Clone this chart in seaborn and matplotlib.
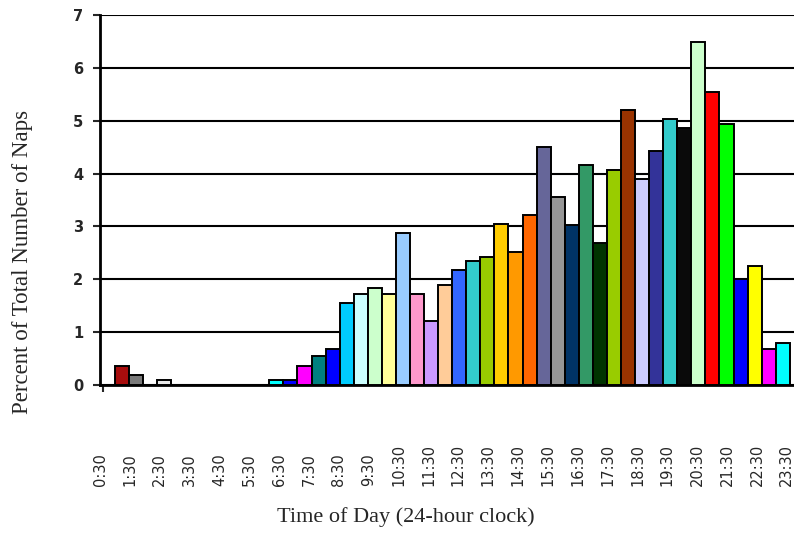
import numpy as np
import matplotlib
matplotlib.use("Agg")
import matplotlib.pyplot as plt
import seaborn as sns

# half-hour slots, one bar each
slots = [f"{h}:{m:02d}" for h in range(24) for m in (0, 30)]

# percent of naps in each slot
naps = [0.36, 0.19, 0.00, 0.09, 0.00, 0.00, 0.00, 0.00,
        0.00, 0.00, 0.00, 0.09, 0.09, 0.36, 0.54, 0.69,
        1.56, 1.73, 1.83, 1.73, 2.88, 1.73, 1.22, 1.90,
        2.17, 2.35, 2.42, 3.04, 2.52, 3.22, 4.51, 3.55,
        3.03, 4.16, 2.68, 4.07, 5.20, 3.90, 4.43, 5.03,
        4.87, 6.49, 5.55, 4.94, 2.00, 2.25, 0.69, 0.79]

bar_colors = ["#A80D0D", "#7A7A7A", "#FFFFFF", "#E8E8E8", "#FFFFFF", "#FFFFFF", "#FFFFFF", "#FFFFFF",
              "#FFFFFF", "#FFFFFF", "#FFFFFF", "#00FFFF", "#0000FF", "#FF00FF", "#008080", "#0000FF",
              "#00CCFF", "#CCFFFF", "#CCFFCC", "#FFFF99", "#99CCFF", "#FF99CC", "#CC99FF", "#FFCC99",
              "#3366FF", "#33CCCC", "#99CC00", "#FFCC00", "#FF9900", "#FF6600", "#666699", "#969696",
              "#003366", "#339966", "#003300", "#99CC00", "#993300", "#CCCCFF", "#333399", "#33CCCC",
              "#0A0A0A", "#CCFFCC", "#FF0000", "#00FF00", "#0000FF", "#FFFF00", "#FF00FF", "#00FFFF"]

tick_labels = [f"{h}:30" for h in range(24)]

sns.set_style("white")
plt.rcParams["font.family"] = ["DejaVu Sans"]

fig = plt.figure(figsize=(7.94, 5.34), dpi=100)
ax = fig.add_axes([100 / 794, 149 / 534, 1 - 100 / 794, 370 / 534])

sns.barplot(x=slots, y=naps, hue=slots, order=slots, hue_order=slots,
            palette=dict(zip(slots, bar_colors)), dodge=False, width=1.0,
            saturation=1, edgecolor="black", linewidth=1.4, legend=False,
            ax=ax, zorder=3)

# grid lines behind the bars
ax.yaxis.grid(True, color="black", linewidth=1.5)
ax.xaxis.grid(False)
ax.set_axisbelow(True)

ax.set_ylim(0, 7)
ax.set_xlim(-1.26, 47.8)

ax.set_yticks(range(8))
ax.set_yticklabels([str(i) for i in range(8)], fontsize=10.5, fontweight="bold")
ax.tick_params(axis="y", direction="out", length=5, width=1.5, pad=7, left=True)

ax.set_xticks(np.linspace(-1.54, 47.29, 24))
ax.set_xticklabels(tick_labels, rotation=90, fontsize=10.5, va="bottom")
ax.tick_params(axis="x", which="major", length=0, pad=73)
ax.set_xticks([-1.3], minor=True)
ax.tick_params(axis="x", which="minor", direction="out", length=5, width=1.5, bottom=True)

for side in ["top", "right"]:
    ax.spines[side].set_visible(False)
for side in ["left", "bottom"]:
    ax.spines[side].set_color("black")
    ax.spines[side].set_linewidth(2)

ax.set_ylabel("Percent of Total Number of Naps", fontsize=16.5, family="Liberation Serif")
ax.yaxis.set_label_coords(-0.096, 0.332)
ax.set_xlabel("Time of Day (24-hour clock)", fontsize=16, family="Liberation Serif")
ax.xaxis.set_label_coords(0.441, -0.33)
ax.xaxis.label.set_va("top")

fig.savefig("out.png", dpi=100)
